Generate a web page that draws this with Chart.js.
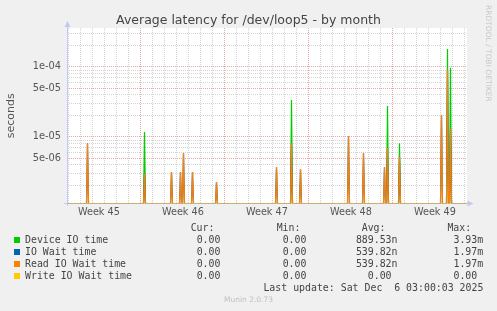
<!DOCTYPE html>
<html>
<head>
<meta charset="utf-8">
<title>Average latency for /dev/loop5 - by month</title>
<script src="https://cdn.jsdelivr.net/npm/chart.js@4.4.1/dist/chart.umd.min.js"></script>
<style>
  html, body { margin: 0; padding: 0; background: #f0f0f0; }
  #wrap { position: relative; width: 497px; height: 311px; overflow: hidden; }
  #wrap canvas { position: absolute; left: 0; top: 0; }
  #title { position: absolute; left: 0; width: 497px; top: 12px; text-align: center; font: 12.5px 'DejaVu Sans', sans-serif; line-height: 15px; color: #444; white-space: pre; }
  .txt { position: absolute; white-space: pre; font-family: 'DejaVu Sans Mono', monospace; font-size: 9.9px; line-height: 12px; color: #444; }
  .box { position: absolute; width: 6px; height: 6px; }
  #rrd { position: absolute; left: 483.5px; top: 5px; writing-mode: vertical-rl; font: 7.5px 'DejaVu Sans', sans-serif; color: #c8c8c8; white-space: pre; }
  #munin { position: absolute; left: 0; width: 497px; top: 295px; text-align: center; font: 7.5px 'DejaVu Sans', sans-serif; color: #c0c0c0; line-height: 10px; }
</style>
</head>
<body>
<div id="wrap">
  <canvas id="myChart" width="497" height="311"></canvas>
  <div id="title">Average latency for /dev/loop5 - by month</div>
  <div id="rrd">RRDTOOL / TOBI OETIKER</div>
  <div id="munin">Munin 2.0.73</div>
</div>
<script>
// x values are days counted from Mon 3 Nov 2025 00:00 (start of week 45)
const xStart = 0.8417;
const xEnd = 34.175;
const yMin = 1.12e-6;
const yMax = 3.6e-4;
const sampleStep = 1 / 12; // 2h samples

const weekCenters = [3.5, 10.5, 17.5, 24.5, 31.5];
const weekLabels = ['Week 45', 'Week 46', 'Week 47', 'Week 48', 'Week 49'];

const yMajorTicks = [5e-6, 1e-5, 5e-5, 1e-4];
const yMajorLabels = ['5e-06', '1e-05', '5e-05', '1e-04'];
const yMinorTicks = [2e-6, 3e-6, 4e-6, 6e-6, 7e-6, 8e-6, 9e-6,
                     2e-5, 3e-5, 4e-5, 6e-5, 7e-5, 8e-5, 9e-5, 2e-4, 3e-4];

// samples that are not zero (all others are 0)
const spikeDays = [2.55, 7.30, 9.55, 10.30, 10.55, 11.30, 13.30, 18.30, 19.55,
                   20.30, 24.30, 25.55, 27.30, 27.55, 28.55, 32.05, 32.55, 32.80];
const deviceIO  = [0, 1.18e-5, 0, 0, 0, 0, 0, 0, 3.38e-5,
                   0, 0, 0, 0, 2.77e-5, 8.1e-6, 0, 1.81e-4, 9.77e-5];
const ioWait    = [8.1e-6, 3.0e-6, 3.16e-6, 3.16e-6, 5.9e-6, 3.16e-6, 2.27e-6, 3.73e-6, 8.1e-6,
                   3.49e-6, 1.03e-5, 5.9e-6, 3.73e-6, 6.96e-6, 5.23e-6, 2.06e-5, 9.0e-5, 1.3e-5];
const readWait  = [8.1e-6, 3.0e-6, 3.16e-6, 3.16e-6, 5.9e-6, 3.16e-6, 2.27e-6, 3.73e-6, 8.1e-6,
                   3.49e-6, 1.03e-5, 5.9e-6, 3.73e-6, 6.96e-6, 5.23e-6, 2.06e-5, 9.0e-5, 1.3e-5];
const writeWait = [0, 0, 0, 0, 0, 0, 0, 0, 0, 0, 0, 0, 0, 0, 0, 0, 0, 0];

const seriesNames = ['Device IO time', 'IO Wait time', 'Read IO Wait time', 'Write IO Wait time'];
const seriesColors = ['#00cc00', '#0066b3', '#ff8000', '#ffcc00'];
const curText = ['0.00', '0.00', '0.00', '0.00'];
const minText = ['0.00', '0.00', '0.00', '0.00'];
const avgText = ['889.53n', '539.82n', '539.82n', '0.00'];
const maxText = ['3.93m', '1.97m', '1.97m', '0.00'];
const lastUpdate = 'Last update: Sat Dec  6 03:00:03 2025';

const gridGray = '#d4d4d4';
const gridRed = '#eca8a8';
const axisColor = '#c4c8f4';

// log scale has no 0, zero samples sit on the floor of the axis
function buildPoints(vals) {
    const pts = [{x: xStart, y: yMin}];
    spikeDays.forEach((d, i) => {
        const v = Math.max(vals[i], yMin);
        pts.push({x: d - sampleStep, y: yMin}, {x: d, y: v}, {x: d + sampleStep, y: yMin});
    });
    pts.push({x: xEnd, y: yMin});
    return pts;
}

const allSeries = [deviceIO, ioWait, readWait, writeWait];
const datasets = allSeries.map((vals, i) => ({
    label: seriesNames[i],
    data: buildPoints(vals),
    borderColor: seriesColors[i],
    backgroundColor: seriesColors[i],
    borderWidth: i === 3 ? 1 : 1.2,
    pointRadius: 0,
    tension: 0,
    fill: false,
    order: 4 - i
}));

function isMajorY(v) {
    return yMajorTicks.findIndex(t => Math.abs(v - t) / t < 1e-6);
}

const axesPlugin = {
    id: 'rrdAxes',
    beforeDraw(chart) {
        const {ctx, chartArea: a} = chart;
        ctx.save();
        ctx.fillStyle = '#ffffff';
        ctx.fillRect(a.left, a.top, a.right - a.left, a.bottom - a.top);
        ctx.restore();
    },
    afterDraw(chart) {
        const {ctx} = chart;
        const x0 = 67.5, y0 = 203.5;
        ctx.save();
        ctx.lineWidth = 1;
        ctx.strokeStyle = axisColor;
        ctx.beginPath();
        ctx.moveTo(x0, 206);
        ctx.lineTo(x0, 24);
        ctx.moveTo(64, y0);
        ctx.lineTo(67, y0);
        ctx.moveTo(467, y0);
        ctx.lineTo(469, y0);
        ctx.stroke();
        // the zero line shows through the x axis
        ctx.strokeStyle = 'rgba(180,185,240,0.35)';
        ctx.beginPath();
        ctx.moveTo(68, y0);
        ctx.lineTo(467, y0);
        ctx.stroke();
        ctx.fillStyle = axisColor;
        ctx.beginPath();
        ctx.moveTo(x0, 21);
        ctx.lineTo(x0 - 3, 27);
        ctx.lineTo(x0 + 3, 27);
        ctx.closePath();
        ctx.fill();
        ctx.beginPath();
        ctx.moveTo(473.5, y0);
        ctx.lineTo(467.5, y0 - 3);
        ctx.lineTo(467.5, y0 + 3);
        ctx.closePath();
        ctx.fill();
        ctx.restore();
    }
};

const ctx = document.getElementById('myChart').getContext('2d');
const config = {
    type: 'line',
    data: { datasets: datasets },
    options: {
        responsive: false,
        animation: false,
        devicePixelRatio: 1,
        layout: { padding: { left: 0, right: 30, top: 28, bottom: 88 } },
        plugins: {
            legend: { display: false },
            tooltip: { enabled: false },
            title: { display: false }
        },
        scales: {
            x: {
                type: 'linear',
                min: xStart,
                max: xEnd,
                afterFit: s => { s.height = 19.5; },
                afterBuildTicks: s => {
                    const vals = [];
                    for (let d = 1; d <= 34; d++) vals.push(d);
                    weekCenters.forEach(c => vals.push(c));
                    vals.sort((p, q) => p - q);
                    s.ticks = vals.map(v => ({value: v}));
                },
                ticks: {
                    autoSkip: false,
                    maxRotation: 0,
                    padding: 3,
                    color: '#555',
                    font: { family: 'DejaVu Sans', size: 9.7 },
                    callback: v => {
                        const k = weekCenters.indexOf(v);
                        return k >= 0 ? weekLabels[k] : '';
                    }
                },
                grid: {
                    drawTicks: false,
                    lineWidth: 1,
                    color: c => {
                        if (!c.tick) return gridGray;
                        const v = c.tick.value;
                        if (Math.abs(v - Math.round(v)) > 0.01) return 'rgba(0,0,0,0)';
                        return Math.round(v) % 7 === 0 ? gridRed : gridGray;
                    }
                },
                border: { display: false, dash: [1, 1] }
            },
            y: {
                type: 'logarithmic',
                min: yMin,
                max: yMax,
                afterFit: s => { s.width = 67; },
                afterBuildTicks: s => {
                    const vals = yMajorTicks.concat(yMinorTicks).sort((p, q) => p - q);
                    s.ticks = vals.map(v => ({value: v}));
                },
                ticks: {
                    autoSkip: false,
                    padding: 6,
                    color: '#555',
                    font: { family: 'DejaVu Sans', size: 9.8 },
                    callback: v => {
                        const k = isMajorY(v);
                        return k >= 0 ? yMajorLabels[k] : '';
                    }
                },
                grid: {
                    drawTicks: false,
                    lineWidth: 1,
                    color: c => (c.tick && isMajorY(c.tick.value) >= 0) ? gridRed : gridGray
                },
                border: { display: false, dash: [1, 1] },
                title: {
                    display: true,
                    text: 'seconds',
                    color: '#555',
                    font: { family: 'DejaVu Sans', size: 11 },
                    padding: { top: 4.5, bottom: 0 }
                }
            }
        }
    },
    plugins: [axesPlugin]
};

const myChart = new Chart(ctx, config);

// legend table under the graph
const wrap = document.getElementById('wrap');
function addText(txt, top, left, right) {
    const el = document.createElement('div');
    el.className = 'txt';
    el.textContent = txt;
    el.style.top = top + 'px';
    if (left !== null) el.style.left = left + 'px';
    else el.style.right = (497 - right) + 'px';
    wrap.appendChild(el);
}
function withUnit(v) {
    return /[a-zA-Z]$/.test(v) ? v : v + ' ';
}

const colRight = [226.4, 312.4, 397.5, 483.2];
const headers = ['Cur:', 'Min:', 'Avg:', 'Max:'];
headers.forEach((h, i) => addText(h, 221.7, null, colRight[i] - 12));

seriesNames.forEach((name, i) => {
    const top = 233.5 + i * 12;
    const box = document.createElement('div');
    box.className = 'box';
    box.style.left = '14px';
    box.style.top = (top + 3) + 'px';
    box.style.background = seriesColors[i];
    wrap.appendChild(box);
    addText(name, top, 25, null);
    [curText[i], minText[i], avgText[i], maxText[i]].forEach((v, j) => {
        addText(withUnit(v), top, null, colRight[j]);
    });
});
addText(lastUpdate, 281.5, null, 483.4);
</script>
</body>
</html>
